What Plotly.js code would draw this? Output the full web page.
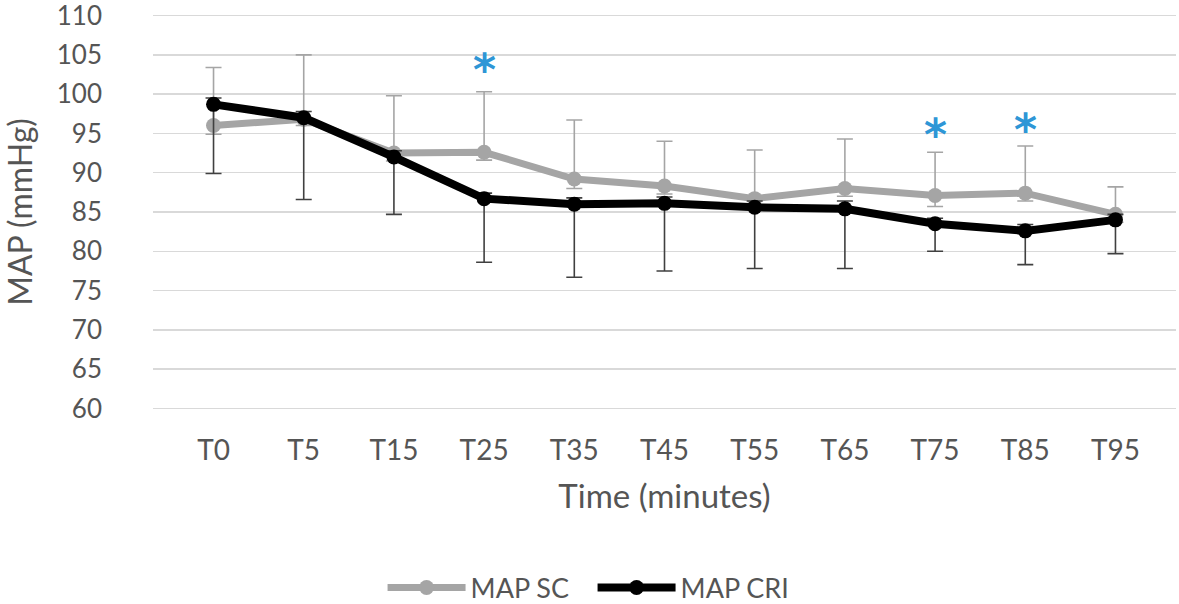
<!DOCTYPE html>
<html>
<head>
<meta charset="utf-8">
<script src="https://cdn.plot.ly/plotly-3.0.1.min.js"></script>
<style>html,body{margin:0;padding:0;background:#fff;}#chart{width:1179px;height:604px;}</style>
</head>
<body>
<div id="chart"></div>
<script>
const categories = ["T0","T5","T15","T25","T35","T45","T55","T65","T75","T85","T95"];
const mapSC = [96.0, 96.8, 92.5, 92.6, 89.2, 88.3, 86.7, 88.0, 87.1, 87.4, 84.7];
const mapSCPlus = [7.4, 8.2, 7.3, 7.7, 7.5, 5.7, 6.2, 6.3, 5.5, 6.0, 3.5];
const mapSCMinus = [1.1, 0.8, 1.0, 1.0, 1.2, 1.0, 1.0, 1.0, 1.4, 1.0, 1.0];
const mapCRI = [98.7, 97.0, 92.0, 86.7, 86.0, 86.1, 85.6, 85.4, 83.5, 82.6, 84.0];
const mapCRIPlus = [0.8, 0.8, 0.8, 0.7, 0.8, 0.8, 0.8, 1.0, 0.7, 0.8, 0.7];
const mapCRIMinus = [8.8, 10.4, 7.3, 8.1, 9.3, 8.6, 7.8, 7.6, 3.5, 4.3, 4.3];
const sigCategories = ["T25","T75","T85"];
const sigY = [103.9, 95.6, 96.3];

const FONT = "Lato, 'Open Sans', sans-serif";
const TXT = "#555555";

const traces = [
  {
    x: categories, y: mapSC, name: "MAP SC", type: "scatter", mode: "lines+markers",
    line: {color: "#a5a5a5", width: 7},
    marker: {color: "#a5a5a5", size: 15},
    error_y: {type: "data", symmetric: false, array: mapSCPlus, arrayminus: mapSCMinus,
              color: "#a5a5a5", thickness: 1.6, width: 8}
  },
  {
    x: categories, y: mapCRI, name: "MAP CRI", type: "scatter", mode: "lines+markers",
    line: {color: "#000000", width: 8},
    marker: {color: "#000000", size: 15},
    error_y: {type: "data", symmetric: false, array: mapCRIPlus, arrayminus: mapCRIMinus,
              color: "#404040", thickness: 1.6, width: 8}
  }
];

const annotations = sigCategories.map((c, i) => ({
  x: c, y: sigY[i], xref: "x", yref: "y", text: "<b>*</b>", showarrow: false,
  font: {family: "DejaVu Sans", size: 44, color: "#2e96d6"},
  yshift: -6
}));

const layout = {
  width: 1179, height: 604,
  margin: {l: 153, r: 3, t: 14, b: 194, autoexpand: false},
  paper_bgcolor: "#ffffff", plot_bgcolor: "#ffffff",
  font: {family: FONT, color: TXT, size: 27},
  showlegend: true,
  legend: {orientation: "h", x: 0.2244, xanchor: "left", yref: "container", y: 0.0265, yanchor: "middle",
           font: {family: FONT, size: 27, color: TXT}, itemwidth: 78, entrywidth: 117,
           traceorder: "normal"},
  xaxis: {
    type: "category", showgrid: false, zeroline: false, showline: false,
    ticks: "", ticklabelstandoff: 21,
    tickfont: {family: FONT, size: 28, color: TXT},
    title: {text: "Time (minutes)", font: {family: FONT, size: 33, color: TXT}, standoff: 19}
  },
  yaxis: {
    range: [59.8, 110.2], dtick: 5, tick0: 60, showgrid: true, gridcolor: "#d9d9d9", gridwidth: 1.5,
    zeroline: false, showline: false, ticks: "", ticklabelstandoff: 50, ticklabeloverflow: "allow",
    tickfont: {family: FONT, size: 26, color: TXT},
    title: {text: "MAP (mmHg)", font: {family: FONT, size: 32, color: TXT}, standoff: 22}
  },
  annotations: annotations
};

Plotly.newPlot("chart", traces, layout, {displayModeBar: false, staticPlot: true});
</script>
</body>
</html>
